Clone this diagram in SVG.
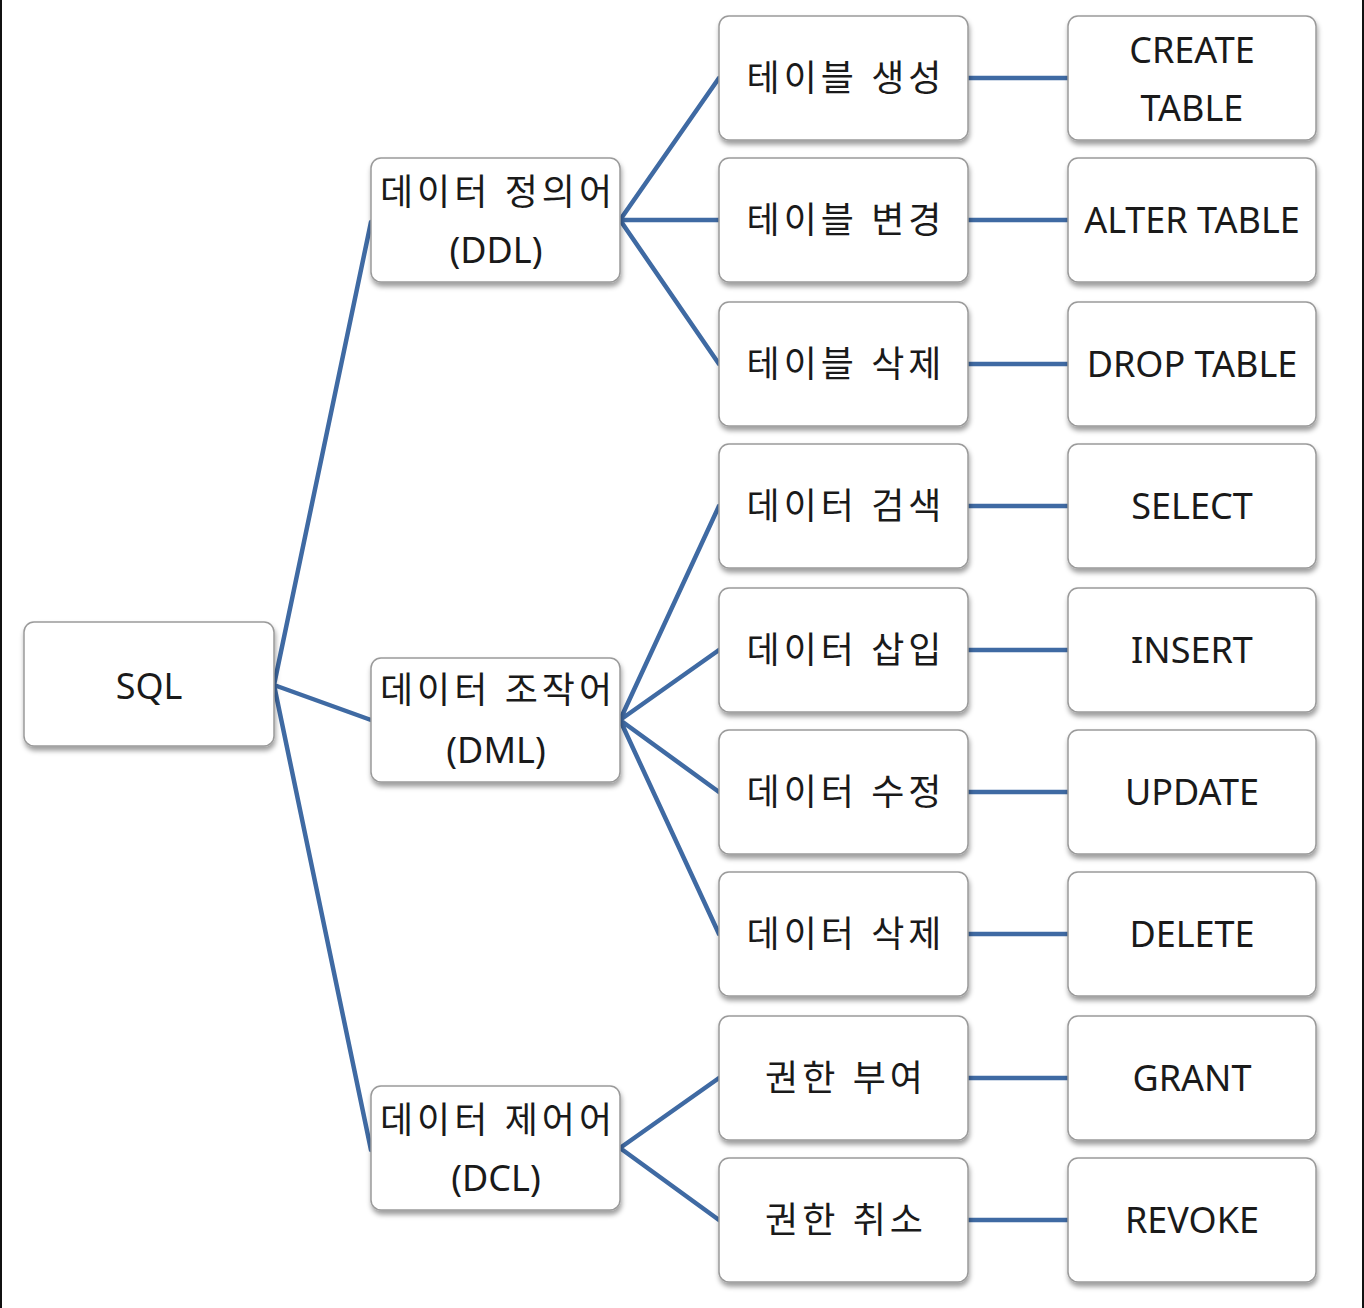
<svg xmlns="http://www.w3.org/2000/svg" width="1364" height="1308" viewBox="0 0 1364 1308">
<defs>
<filter id="sh" x="-10%" y="-10%" width="120%" height="130%">
<feDropShadow dx="1" dy="4" stdDeviation="2.5" flood-color="#000" flood-opacity="0.38"/>
</filter>
</defs>
<style>
.box{fill:#fff;stroke:#9a9a9a;stroke-width:1.5;filter:url(#sh)}
.t{font-family:"Noto Sans","Noto Sans CJK KR",sans-serif;font-size:36px;fill:#1a1a1a;text-anchor:middle}
.k{letter-spacing:4px}
.c{stroke:#3f6aa3;stroke-width:4.5;fill:none;stroke-linecap:round}
</style>
<rect x="0" y="0" width="1364" height="1308" fill="#fff"/>
<rect x="0" y="0" width="2" height="1308" fill="#111"/>
<rect x="1362" y="0" width="2" height="1308" fill="#111"/>
<g id="connectors">
<path class="c" d="M274 685 L371 222 M274 685 L371 720 M274 685 L371 1150"/>
<path class="c" d="M620 220 L719 78 M620 220 L719 220 M620 220 L719 364"/>
<path class="c" d="M620 720 L719 506 M620 720 L719 650 M620 720 L719 792 M620 720 L719 934"/>
<path class="c" d="M620 1148 L719 1078 M620 1148 L719 1220"/>
<path class="c" d="M968 78 H1068 M968 220 H1068 M968 364 H1068 M968 506 H1068 M968 650 H1068 M968 792 H1068 M968 934 H1068 M968 1078 H1068 M968 1220 H1068"/>
</g>
<g id="sql"><rect class="box" x="24" y="622" width="250" height="124" rx="10"/><text class="t" x="149" y="699">SQL</text></g>
<g id="ddl"><rect class="box" x="371" y="158" width="249" height="124" rx="10"/><text class="t k" x="498" y="205">데이터 정의어</text><text class="t" x="496" y="263">(DDL)</text></g>
<g id="dml"><rect class="box" x="371" y="658" width="249" height="124" rx="10"/><text class="t k" x="498" y="703">데이터 조작어</text><text class="t" x="496" y="763">(DML)</text></g>
<g id="dcl"><rect class="box" x="371" y="1086" width="249" height="124" rx="10"/><text class="t k" x="498" y="1133">데이터 제어어</text><text class="t" x="496" y="1191">(DCL)</text></g>
<g id="n1"><rect class="box" x="719" y="16" width="249" height="124" rx="10"/><text class="t k" x="846" y="91">테이블 생성</text></g>
<g id="n2"><rect class="box" x="719" y="158" width="249" height="124" rx="10"/><text class="t k" x="846" y="233">테이블 변경</text></g>
<g id="n3"><rect class="box" x="719" y="302" width="249" height="124" rx="10"/><text class="t k" x="846" y="377">테이블 삭제</text></g>
<g id="n4"><rect class="box" x="719" y="444" width="249" height="124" rx="10"/><text class="t k" x="846" y="519">데이터 검색</text></g>
<g id="n5"><rect class="box" x="719" y="588" width="249" height="124" rx="10"/><text class="t k" x="846" y="663">데이터 삽입</text></g>
<g id="n6"><rect class="box" x="719" y="730" width="249" height="124" rx="10"/><text class="t k" x="846" y="805">데이터 수정</text></g>
<g id="n7"><rect class="box" x="719" y="872" width="249" height="124" rx="10"/><text class="t k" x="846" y="947">데이터 삭제</text></g>
<g id="n8"><rect class="box" x="719" y="1016" width="249" height="124" rx="10"/><text class="t k" x="846" y="1091">권한 부여</text></g>
<g id="n9"><rect class="box" x="719" y="1158" width="249" height="124" rx="10"/><text class="t k" x="846" y="1233">권한 취소</text></g>
<g id="m1"><rect class="box" x="1068" y="16" width="248" height="124" rx="10"/><text class="t" x="1192" y="63">CREATE</text><text class="t" x="1192" y="121">TABLE</text></g>
<g id="m2"><rect class="box" x="1068" y="158" width="248" height="124" rx="10"/><text class="t" x="1192" y="233">ALTER TABLE</text></g>
<g id="m3"><rect class="box" x="1068" y="302" width="248" height="124" rx="10"/><text class="t" x="1192" y="377">DROP TABLE</text></g>
<g id="m4"><rect class="box" x="1068" y="444" width="248" height="124" rx="10"/><text class="t" x="1192" y="519">SELECT</text></g>
<g id="m5"><rect class="box" x="1068" y="588" width="248" height="124" rx="10"/><text class="t" x="1192" y="663">INSERT</text></g>
<g id="m6"><rect class="box" x="1068" y="730" width="248" height="124" rx="10"/><text class="t" x="1192" y="805">UPDATE</text></g>
<g id="m7"><rect class="box" x="1068" y="872" width="248" height="124" rx="10"/><text class="t" x="1192" y="947">DELETE</text></g>
<g id="m8"><rect class="box" x="1068" y="1016" width="248" height="124" rx="10"/><text class="t" x="1192" y="1091">GRANT</text></g>
<g id="m9"><rect class="box" x="1068" y="1158" width="248" height="124" rx="10"/><text class="t" x="1192" y="1233">REVOKE</text></g>
</svg>
